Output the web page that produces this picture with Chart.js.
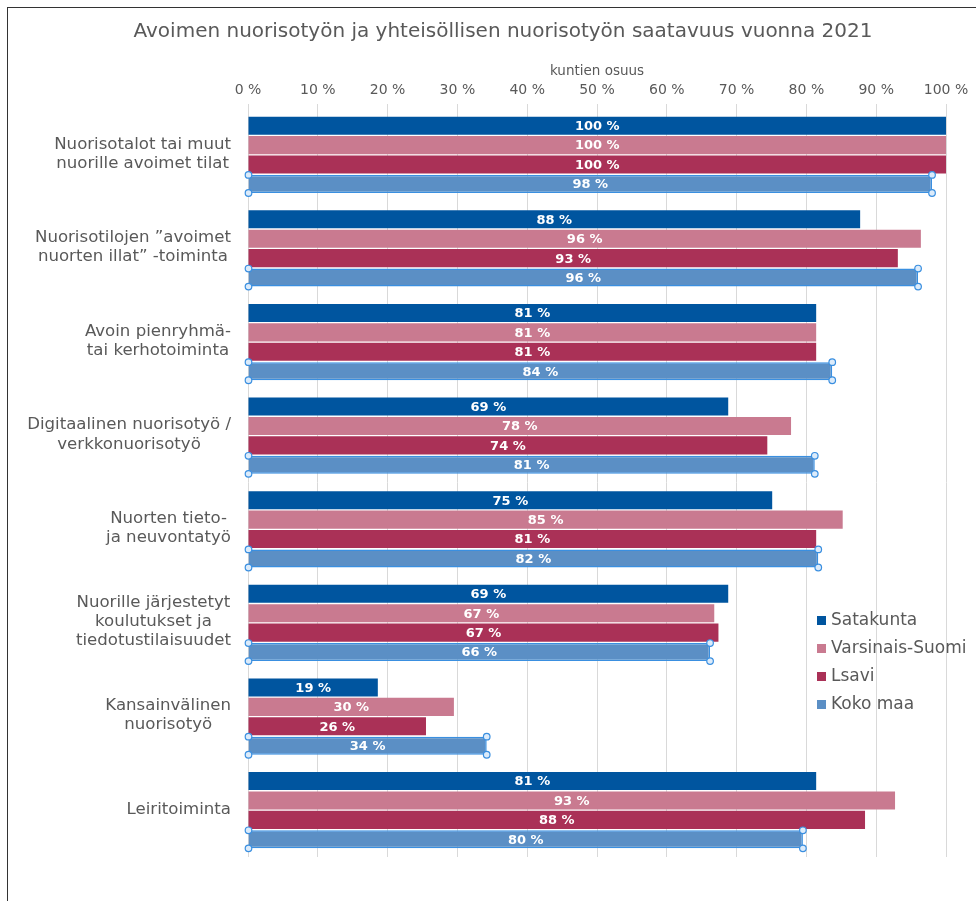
<!DOCTYPE html>
<html>
<head>
<meta charset="utf-8">
<script src="https://cdn.jsdelivr.net/npm/chart.js@4"></script>
<style>
  html, body { margin: 0; padding: 0; background: #fff; }
  #wrap { position: relative; width: 976px; height: 901px; }
  #frame { position: absolute; left: 7px; top: 7px; right: -2px; bottom: -2px; border-left: 1px solid #333; border-top: 1px solid #333; }
  #myChart { position: absolute; left: 0; top: 0; }
</style>
</head>
<body>
<div id="wrap">
  <div id="frame"></div>
  <canvas id="myChart" width="976" height="901"></canvas>
</div>
<script>
const categories = [
  ["Nuorisotalot tai muut", "nuorille avoimet tilat"],
  ["Nuorisotilojen ”avoimet", "nuorten illat” -toiminta"],
  ["Avoin pienryhmä-", "tai kerhotoiminta"],
  ["Digitaalinen nuorisotyö /", "verkkonuorisotyö"],
  ["Nuorten tieto-", "ja neuvontatyö"],
  ["Nuorille järjestetyt", "koulutukset ja", "tiedotustilaisuudet"],
  ["Kansainvälinen", "nuorisotyö"],
  ["Leiritoiminta"]
];
const seriesNames = ["Satakunta", "Varsinais-Suomi", "Lsavi", "Koko maa"];
const satakunta = [100, 87.7, 81.4, 68.8, 75.1, 68.8, 18.6, 81.4];
const varsinaisSuomi = [100, 96.4, 81.4, 77.8, 85.2, 66.8, 29.5, 92.7];
const lsavi = [100, 93.1, 81.4, 74.4, 81.4, 67.4, 25.5, 88.4];
const kokoMaa = [98.0, 96.0, 83.7, 81.2, 81.7, 66.2, 34.2, 79.5];
const colors = ["#00559f", "#c97a90", "#aa3157", "#5b8fc5"];

const grey = "#595959";
const chartTitle = "Avoimen nuorisotyön ja yhteisöllisen nuorisotyön saatavuus vuonna 2021";

// value labels inside bars
const barLabels = {
  id: 'barLabels',
  afterDatasetsDraw(chart) {
    const ctx = chart.ctx;
    ctx.save();
    ctx.font = "bold 13px 'DejaVu Sans'";
    ctx.fillStyle = "#ffffff";
    ctx.textAlign = "center";
    ctx.textBaseline = "middle";
    chart.data.datasets.forEach((ds, i) => {
      chart.getDatasetMeta(i).data.forEach((bar, j) => {
        const p = bar.getProps(['x', 'y', 'base'], true);
        ctx.fillText(Math.round(ds.data[j]) + " %", (p.x + p.base) / 2, p.y + 1);
      });
    });
    ctx.restore();
  }
};

// selection handles on the last series
const handles = {
  id: 'handles',
  afterDatasetsDraw(chart) {
    const ctx = chart.ctx;
    const meta = chart.getDatasetMeta(3);
    ctx.save();
    ctx.lineWidth = 1.2;
    ctx.strokeStyle = "#3a8fe0";
    ctx.fillStyle = "#dcebfa";
    meta.data.forEach(bar => {
      const p = bar.getProps(['x', 'y', 'base', 'height'], true);
      const pts = [[p.base, p.y - p.height / 2], [p.base, p.y + p.height / 2], [p.x, p.y - p.height / 2], [p.x, p.y + p.height / 2]];
      pts.forEach(([px, py]) => {
        ctx.beginPath();
        ctx.arc(px, py, 3.3, 0, Math.PI * 2);
        ctx.fill();
        ctx.stroke();
      });
    });
    ctx.restore();
  }
};

// category labels: block right aligned, lines centred
const catLabels = {
  id: 'catLabels',
  afterDraw(chart) {
    const ctx = chart.ctx;
    const y = chart.scales.y;
    ctx.save();
    ctx.font = "16.6px 'DejaVu Sans'";
    ctx.fillStyle = grey;
    ctx.textAlign = "center";
    ctx.textBaseline = "middle";
    const lh = 19.2;
    categories.forEach((lines, i) => {
      const cy = y.getPixelForValue(i);
      const w = Math.max(...lines.map(l => ctx.measureText(l).width));
      const cx = chart.chartArea.left - 17 - w / 2;
      lines.forEach((l, k) => {
        ctx.fillText(l, cx, cy + (k - (lines.length - 1) / 2) * lh - 1);
      });
    });
    ctx.restore();
  }
};

// title and legend
const extras = {
  id: 'extras',
  afterDraw(chart) {
    const ctx = chart.ctx;
    ctx.save();
    ctx.fillStyle = grey;
    ctx.font = "20px 'DejaVu Sans'";
    ctx.textAlign = "center";
    ctx.textBaseline = "middle";
    ctx.fillText(chartTitle, 503, 32);

    ctx.font = "17px 'DejaVu Sans'";
    ctx.textAlign = "left";
    seriesNames.forEach((n, i) => {
      const yy = 621 + i * 28;
      ctx.fillStyle = colors[i];
      ctx.fillRect(817, yy - 5, 9, 9);
      ctx.fillStyle = grey;
      ctx.fillText(n, 831, yy);
    });
    ctx.restore();
  }
};

new Chart(document.getElementById("myChart"), {
  type: 'bar',
  data: {
    labels: categories.map(c => c.join(" ")),
    datasets: [
      { label: seriesNames[0], data: satakunta, backgroundColor: colors[0] },
      { label: seriesNames[1], data: varsinaisSuomi, backgroundColor: colors[1] },
      { label: seriesNames[2], data: lsavi, backgroundColor: colors[2] },
      { label: seriesNames[3], data: kokoMaa, backgroundColor: colors[3], borderColor: "#3a8fe0", borderWidth: 1.5 }
    ]
  },
  options: {
    indexAxis: 'y',
    responsive: false,
    animation: false,
    categoryPercentage: 0.83,
    barPercentage: 0.93,
    layout: { padding: { left: 0, right: 30, top: 44, bottom: 44 } },
    plugins: {
      legend: { display: false },
      tooltip: { enabled: false }
    },
    scales: {
      x: {
        position: 'top',
        min: 0,
        max: 100,
        ticks: {
          stepSize: 10,
          padding: 5,
          color: grey,
          font: { family: "DejaVu Sans", size: 14 },
          callback: v => v + " %"
        },
        grid: { color: "#d9d9d9", tickLength: 4, drawTicks: true },
        border: { display: false },
        title: {
          display: true,
          text: "kuntien osuus",
          color: grey,
          font: { family: "DejaVu Sans", size: 13.5 },
          padding: { top: 19, bottom: 0 }
        },
        afterFit(scale) { scale.height = 64; }
      },
      y: {
        ticks: { display: false },
        grid: { display: false },
        border: { display: false },
        afterFit(scale) { scale.width = 248; }
      }
    }
  },
  plugins: [barLabels, handles, catLabels, extras]
});
</script>
</body>
</html>
